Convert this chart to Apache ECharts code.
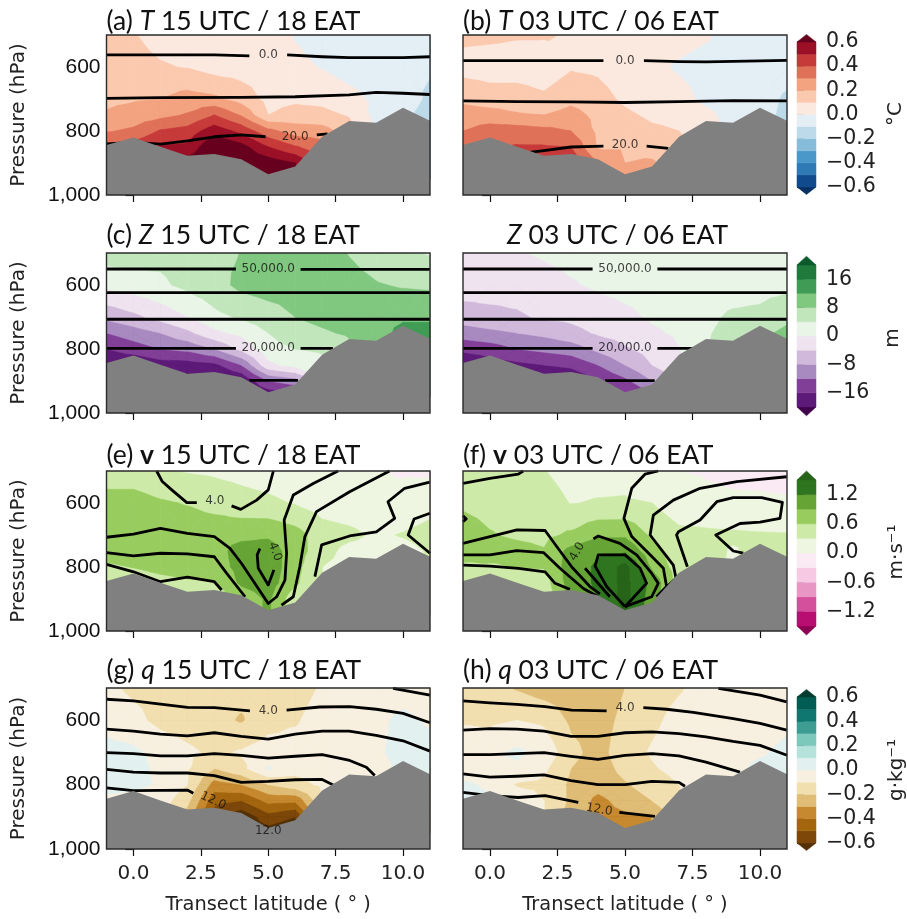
<!DOCTYPE html>
<html><head><meta charset="utf-8">
<style>html,body{margin:0;padding:0;background:#fff}#c{width:907px;height:919px}</style>
<script src="https://cdn.jsdelivr.net/npm/echarts@6/dist/echarts.min.js"></script>
</head><body><div id="c"></div>
<script>
const latitudes=[-1,0,1,2,3,4,5,6,7,8,9,10,11];
const pressures=[500,600,700,750,800,850,900,950];
const terrainP=[844,820,849,877,872,888,935,911,818,769,774,727,768];
const xTicks=[0,2.5,5,7.5,10];
const yTicks=[600,800,1000];

const edgesT=[-.6,-.5,-.4,-.3,-.2,-.1,0,.1,.2,.3,.4,.5,.6];
const edgesZ=[-20,-16,-12,-8,-4,0,4,8,12,16,20];
const edgesV=[-1.5,-1.2,-.9,-.6,-.3,0,.3,.6,.9,1.2,1.5];
const edgesQ=edgesT;
const colorsT=['#053061','#114b8e','#2f79b5','#4a98c9','#86bcd9','#bcdaea','#e3eef5','#fbe9e0','#fbc9ae','#f3a380','#df7159','#c73a3a','#9b1027','#67001f'];
const colorsZ=['#40004b','#5e1a78','#823f98','#a98ac0','#d0b9da','#eee3ef','#e9f5e6','#c2e6bc','#80c780','#409c54','#1f7a3c','#0b5a2b'];
const colorsV=['#8e0152','#b80e72','#d44f9c','#e896c4','#f7c9e2','#faeaf3','#eef6e2','#cdeaa8','#98cc5e','#66a436','#2f7520','#276419'];
const colorsQ=['#543005','#7c4708','#a3660f','#c6892f','#dfbd76','#f2dfb0','#f7f0e0','#e2f1ef','#b5e2db','#7cc9bc','#3e9d93','#0f776f','#015c53','#003c30'];
const ticksT=[-.6,-.4,-.2,0,.2,.4,.6];
const ticksZ=[-16,-8,0,8,16];
const ticksV=[-1.2,-.6,0,.6,1.2];

// each row: one latitude, values at the pressures above
const fieldA=[
[.12,.15,.18,.21,.29,.42,.5,.5],[.105,.13,.19,.24,.32,.45,.5,.5],[.07,.108,.2,.27,.41,.51,.55,.55],[.06,.095,.24,.31,.44,.52,.65,.65],
[.05,.06,.22,.4,.56,.7,.72,.72],[.05,.05,.16,.29,.47,.64,.7,.7],[.04,.04,.07,.1,.33,.5,.66,.75],[-.005,.02,.08,.14,.25,.41,.6,.65],
[-.03,-.005,.07,.13,.24,.35,.35,.35],[-.04,-.04,.03,.09,.15,.15,.15,.15],[-.05,-.05,-.02,-.03,-.03,-.03,-.03,-.03],[-.05,-.07,-.05,-.08,-.08,-.08,-.08,-.08],[-.05,-.09,-.12,-.14,-.15,-.15,-.15,-.15]];
const fieldB=[
[.125,.06,.18,.24,.3,.33,.35,.35],[.12,.05,.15,.24,.35,.38,.38,.38],[.11,.05,.15,.21,.35,.41,.45,.45],[.11,.04,.12,.2,.33,.41,.45,.5],
[.09,.09,.17,.24,.3,.4,.48,.5],[.06,.08,.14,.17,.18,.19,.3,.3],[.05,.04,.08,.12,.16,.19,.2,.3],[.03,.02,.04,.08,.12,.17,.21,.25],
[.03,-.01,.03,.07,.1,.14,.15,.15],[.01,-.03,-.02,.02,.04,.04,.04,.04],[-.03,-.04,-.04,-.03,-.02,-.02,-.02,-.02],[-.04,-.04,-.05,-.06,-.06,-.06,-.06,-.06],[-.05,-.05,-.12,-.13,-.14,-.14,-.14,-.14]];
const fieldC=[
[6,1,-7,-12,-16,-20,-22,-22],[6,2,-5,-10,-14,-20,-22,-22],[5,3.3,-2.5,-8,-12,-18,-22,-22],[6,5,0,-5,-11,-18,-22,-22],
[7,6.5,3,-1,-8,-17,-22,-22],[8.1,9,4.5,1,-3,-12,-20,-22],[9.5,10,6,4,2.5,-1,-12,-20],[10,10,8,6.5,4,1.5,-10,-18],
[10,11,9,7.5,4.5,3,3,3],[7.8,9.5,10,8.5,7,7,7,7],[6,8.3,11,10.5,10,10,10,10],[4.5,7.6,11.5,13,13,13,13,13],[3.7,7.3,11.5,13,14,14,14,14]];
const fieldD=[
[-1,-2,-6,-10,-15,-20,-22,-22],[-1,-2.5,-5,-9,-14,-18,-22,-22],[-.3,-2.5,-4.5,-8,-12,-17,-22,-22],[.5,-1.5,-3.5,-7,-11,-16,-21,-22],
[1,-.3,-3,-5.5,-10,-15,-20,-22],[1,.5,-1.7,-3.5,-7,-12,-16,-21],[1.2,1,-.7,-2.5,-4.5,-8,-13,-17],[1.5,1.2,.4,-.5,-2.5,-4,-8,-14],
[1.8,1.7,1,.5,-.1,-1.5,-3,-4],[2,2.2,3.2,3.7,3.8,4,4,4],[2,2.3,4.6,5,5.5,6,6,6],[2,2.5,5,7,7,7,7,7],[2,3,7,9,10,10,10,10]];
const fieldE=[
[.4,.75,.8,.75,.55,.35,.35,.35],[.4,.75,.8,.75,.61,.4,.35,.35],[.31,.64,.8,.75,.7,.48,.35,.35],[.28,.58,.8,.78,.75,.55,.35,.35],
[.25,.5,.78,.75,.75,.58,.35,.35],[.2,.42,.8,1.05,1,.95,.7,.7],[.15,.36,.85,1.05,1.1,1.05,.95,.95],[.1,.28,.72,.75,.7,.65,.4,.4],
[.05,.15,.45,.42,.3,.3,.3,.3],[.02,.1,.38,.2,.2,.2,.2,.2],[.02,.05,.25,.18,.2,.2,.2,.2],[-.03,.1,.32,.2,.2,.2,.2,.2],[-.05,.2,.4,.33,.3,.3,.3,.3]];
const fieldF=[
[.38,.55,.75,.85,.5,.33,.3,.3],[.38,.5,.62,.75,.55,.35,.33,.33],[.33,.48,.55,.7,.62,.4,.33,.33],[.31,.42,.53,.62,.62,.45,.33,.33],
[.2,.29,.65,1,1.05,1.05,1,1],[.2,.32,.85,1.15,1.25,1.25,1.2,1.2],[.2,.33,.85,1.15,1.6,1.6,1.6,1.5],[.1,.3,.55,.7,.85,1.1,1.05,1.05],
[0,.12,.38,.42,.45,.5,.5,.5],[-.02,.05,.37,.4,.4,.4,.4,.4],[-.04,.03,.35,.27,.25,.25,.25,.25],[-.05,.03,.33,.4,.4,.4,.4,.4],[-.06,.02,.32,.4,.4,.4,.4,.4]];
const fieldG=[
[-.08,-.03,.03,.03,.03,-.02,-.02,-.02],[-.12,-.07,.02,.03,.02,-.03,-.03,-.03],[-.14,-.13,-.03,-.02,-.01,-.05,-.05,-.05],[-.15,-.15,-.08,-.09,-.1,-.17,-.25,-.25],
[-.15,-.17,-.12,-.2,-.34,-.47,-.55,-.6],[-.17,-.21,-.09,-.13,-.3,-.5,-.68,-.7],[-.16,-.14,-.05,.01,-.2,-.37,-.54,-.65],[-.14,-.11,-.06,-.07,-.14,-.38,-.6,-.7],
[-.09,-.06,-.05,-.06,-.08,-.12,-.12,-.12],[-.05,-.04,-.04,-.08,-.08,-.08,-.08,-.08],[-.05,-.02,-.01,-.03,-.03,-.03,-.03,-.03],[-.04,.02,.02,.02,.02,.02,.02,.02],[-.05,-.01,.03,.02,.02,.02,.02,.02]];
const fieldH=[
[-.13,-.11,-.05,-.04,.01,.02,.02,.02],[-.15,-.12,-.03,-.02,-.01,.01,.01,.01],[-.21,-.1,.02,-.02,-.11,-.04,-.04,-.04],[-.25,-.12,-.03,-.08,-.12,-.1,-.1,-.1],
[-.25,-.22,-.17,-.2,-.22,-.22,-.25,-.3],[-.28,-.25,-.24,-.25,-.26,-.33,-.34,-.35],[-.2,-.17,-.14,-.17,-.21,-.26,-.32,-.4],[-.14,-.12,-.09,-.11,-.15,-.2,-.3,-.3],
[-.11,-.07,-.05,-.07,-.1,-.12,-.12,-.12],[-.06,-.05,-.04,-.04,-.04,-.04,-.04,-.04],[-.04,-.04,-.03,-.02,-.02,-.02,-.02,-.02],[-.04,-.04,-.01,.02,.02,.02,.02,.02],[-.04,-.02,.02,.02,.02,.02,.02,.02]];

// contour lines as [latitude, pressure] vertices
const linesA=[
[[-1,562],[1,562],[3,562],[4.3,565]],[[5.7,562],[7,568],[8,571],[9,571],[10,571],[11,568]],
[[-1,698],[1,696],[4,695],[6,693],[8,687],[9,679],[10,682],[11,686]],
[[-1,840],[0,836],[1,841],[2,831],[3,818],[4,812],[4.9,818]],[[6.8,812],[7.2,809]]];
const linesB=[
[[-1,580],[1,580],[3,580],[4.2,580]],[[5.7,580],[7,583],[8,584],[10,581],[11,579]],
[[-1,706],[1,708],[3,709],[5,711],[7,708],[9,705],[11,706]],
[[1,872],[1.6,865],[2,861],[3,850],[4.2,847]],[[5.8,847],[6.6,854]]];
const linesC=[
[[-1,550],[3.8,550]],[[6.2,551],[11,551]],[[-1,624],[11,624]],[[-1,707],[11,707]],
[[-1,798],[3.8,798]],[[6.2,798],[7.4,798]],[[4.3,898],[6.1,898]]];
const linesD=[
[[-1,550],[3.8,550]],[[6.2,550],[11,550]],[[-1,624],[11,624]],[[-1,707],[11,707]],
[[-1,798],[3.8,798]],[[6.2,798],[7.5,798]],[[4.26,899],[6.1,899]]];
const linesE=[
[[.86,500],[1.07,533],[1.42,559],[1.98,599],[2.35,599]],[[3.64,609],[3.98,620],[4.57,591],[5,559],[5.19,500]],
[[-1,707],[0,697],[1,679],[2,695],[3,705],[3.58,742],[4.01,789],[4.5,851],[5,914],[5.31,893],[5.62,841],[5.68,757],[5.59,653],[5.93,575],[6.67,539],[7.59,500]],
[[-1,755],[0,765],[1,757],[2,759],[3,768],[3.46,820],[4.14,893]],
[[5.49,919],[5.93,893],[6.17,799],[6.36,705],[6.79,627],[8.02,565],[9.5,500]],
[[-1,792],[0,815],[1,846],[2,832],[3,846],[3.27,872]],
[[6.73,830],[6.98,731],[8.02,703],[9.01,690],[9.69,648],[9.44,596],[10.06,554],[10.99,535]],
[[4.69,742],[4.59,762],[4.63,804],[5,856],[5.21,809]],
[[11,632],[10.41,650],[10.19,700],[11,757]]];
const linesF=[
[[-1,539],[0,523],[1.05,510],[1.23,500]],[[-1,640],[-.88,650],[-1,658]],
[[-1,726],[0,705],[1,684],[2.04,686],[2.47,736],[3.02,799],[3.7,861],[4.07,884]],
[[-1,762],[0,762],[.99,749],[1.98,755],[2.59,804],[3.46,867],[4.01,893]],
[[-1,794],[0,797],[1.05,804],[2.04,815],[2.41,851],[2.96,870]],
[[5,924],[5.8,851],[5.56,804],[5,762],[4.01,762],[3.89,797],[4.32,861],[5,924]],
[[3.83,712],[4.01,703],[4.81,726],[5.43,762],[5.99,820],[6.23,851],[5.99,893],[5,924]],
[[3.52,804],[4.44,893]],
[[6.23,500],[5.74,510],[5.25,554],[4.96,648],[5.25,705],[5.93,762],[6.42,804],[6.54,861],[6.17,893]],
[[10.99,518],[9.14,533],[7.78,554],[6.79,591],[6.05,638],[5.93,700],[6.79,794],[6.89,835],[6.48,867]],
[[7.31,799],[6.91,700],[6.98,690],[7.78,653],[8.4,596],[9.01,583],[10.06,583],[10.83,598],[10.74,648],[10,660],[9.26,664],[8.36,700],[9.01,750],[9.38,757]]];
const linesG=[
[[9.63,501],[11,522]],
[[-1,535],[0,540],[1,550],[2,560],[3,561],[4.32,571]],[[5.68,569],[6.91,559],[8.02,558],[9.01,566],[10,579],[11,608]],
[[-1,628],[0,634],[1,643],[2,649],[3,639],[4,650],[5,659],[6,643],[7,634],[8,634],[9,647],[10,664],[11,696]],
[[-1,701],[0,704],[1,711],[2,711],[3,704],[4,709],[5,718],[6,712],[7,707],[8.02,725],[8.64,746],[8.95,772]],
[[-1,753],[0,761],[1,764],[2,764],[3,772],[4,793],[5,790],[6,785],[7,784],[7.41,801]],
[[-1,810],[0,819],[2,817],[2.22,827]]];
const linesH=[
[[8.46,501],[10,522],[10.99,543]],
[[-1,540],[0,546],[.99,551],[2.04,558],[3.02,569],[4.32,571]],[[5.68,561],[6.54,566],[7.53,576],[9.01,595],[10,610],[10.99,631]],
[[-1,631],[0,626],[1,628],[2,634],[3,650],[4,650],[5,639],[6,636],[7,642],[8,652],[9,666],[10,678],[11,709]],
[[-1,707],[0,707],[1,704],[2,701],[3,712],[4,722],[5,709],[6,704],[7,711],[8,730],[9.26,761]],
[[-1,767],[0,777],[1,774],[2,770],[3,788],[4,800],[5,800],[6,790],[7,793],[7.22,805]],
[[-1,824],[0,834],[1.05,840],[2.04,834],[3.27,855]],
[[4.79,886],[6.11,899]]];

// inline contour labels: latitude, pressure, text, rotation
const labelsA=[[5,562,'0.0',0],[6,818,'20.0',0]];
const labelsB=[[5,580,'0.0',0],[5,844,'20.0',0]];
const labelsC=[[5,550,'50,000.0',0],[5,798,'20,000.0',0]];
const labelsD=[[5,550,'50,000.0',0],[5,798,'20,000.0',0]];
const labelsE=[[3.02,593,'4.0',0],[5.25,752,'4.0',-70]];
const labelsF=[[3.23,752,'4.0',60]];
const labelsG=[[5,572,'4.0',0],[2.96,850,'12.0',-25],[5,945,'12.0',0]];
const labelsH=[[5,561,'4.0',0],[4.04,878,'12.0',-10]];

const panels=[
{field:fieldA,lines:linesA,labels:labelsA,edges:edgesT,colors:colorsT,pre:'(a) ',sym:'T',st:'i',rest:' 15 UTC / 18 EAT'},
{field:fieldB,lines:linesB,labels:labelsB,edges:edgesT,colors:colorsT,pre:'(b) ',sym:'T',st:'i',rest:' 03 UTC / 06 EAT'},
{field:fieldC,lines:linesC,labels:labelsC,edges:edgesZ,colors:colorsZ,pre:'(c) ',sym:'Z',st:'i',rest:' 15 UTC / 18 EAT'},
{field:fieldD,lines:linesD,labels:labelsD,edges:edgesZ,colors:colorsZ,pre:'',sym:'Z',st:'i',rest:' 03 UTC / 06 EAT'},
{field:fieldE,lines:linesE,labels:labelsE,edges:edgesV,colors:colorsV,pre:'(e) ',sym:'v',st:'b',rest:' 15 UTC / 18 EAT'},
{field:fieldF,lines:linesF,labels:labelsF,edges:edgesV,colors:colorsV,pre:'(f) ',sym:'v',st:'b',rest:' 03 UTC / 06 EAT'},
{field:fieldG,lines:linesG,labels:labelsG,edges:edgesQ,colors:colorsQ,pre:'(g) ',sym:'q',st:'i',rest:' 15 UTC / 18 EAT'},
{field:fieldH,lines:linesH,labels:labelsH,edges:edgesQ,colors:colorsQ,pre:'(h) ',sym:'q',st:'i',rest:' 03 UTC / 06 EAT'}];

const rowTop=[35,253,471,688], rowH=[160,160,160,161], colLeft=[106.5,463], colW=[323.5,324];
const titleTop=[10,224,444,659];
const bars=[
{edges:edgesT,colors:colorsT,ticks:ticksT,top:42,h:145,dec:1,unit:'°C',ux:896,uy:114},
{edges:edgesZ,colors:colorsZ,ticks:ticksZ,top:265,h:142,dec:0,unit:'m',ux:893,uy:338},
{edges:edgesV,colors:colorsV,ticks:ticksV,top:480,h:146,dec:1,unit:'m·s⁻¹',ux:897,uy:552},
{edges:edgesQ,colors:colorsQ,ticks:ticksT,top:697,h:146,dec:1,unit:'g·kg⁻¹',ux:897,uy:770}];

const TICKFONT='DejaVu Sans';
function clipTri(tri,level){ // keep part with v>=level
  const out=[];
  for(let i=0;i<tri.length;i++){
    const a=tri[i],b=tri[(i+1)%tri.length];
    const ia=a[2]>=level,ib=b[2]>=level;
    if(ia)out.push(a);
    if(ia!==ib){const t=(level-a[2])/(b[2]-a[2]);out.push([a[0]+t*(b[0]-a[0]),a[1]+t*(b[1]-a[1]),level]);}
  }
  return out;
}
function bandPolys(field,edges,colors){
  const polys=[];
  const L=latitudes,P=pressures;
  polys.push({pts:[[L[0],P[0]],[L[L.length-1],P[0]],[L[L.length-1],P[P.length-1]],[L[0],P[P.length-1]]],color:colors[0]});
  edges.forEach((lev,k)=>{
    const color=colors[k+1];
    for(let i=0;i<L.length-1;i++)for(let j=0;j<P.length-1;j++){
      const a=[L[i],P[j],field[i][j]],b=[L[i+1],P[j],field[i+1][j]],c=[L[i+1],P[j+1],field[i+1][j+1]],d=[L[i],P[j+1],field[i][j+1]];
      if(a[2]>=lev&&b[2]>=lev&&c[2]>=lev&&d[2]>=lev){polys.push({pts:[a,b,c,d],color});continue;}
      if(a[2]<lev&&b[2]<lev&&c[2]<lev&&d[2]<lev)continue;
      const m=[(a[0]+c[0])/2,(a[1]+c[1])/2,(a[2]+b[2]+c[2]+d[2])/4];
      [[a,b,m],[b,c,m],[c,d,m],[d,a,m]].forEach(t=>{const q=clipTri(t,lev);if(q.length>2)polys.push({pts:q,color});});
    }
  });
  return polys;
}
const fmtTick=(v,dec)=>{const s=Math.abs(v).toFixed(dec);return (v<0?'\u2212':'')+s;};
const grids=[],xAxes=[],yAxes=[],series=[],titles=[];
panels.forEach((p,idx)=>{
  const r=Math.floor(idx/2),c=idx%2,ai=grids.length;
  grids.push({left:colLeft[c],top:rowTop[r],width:colW[c],height:rowH[r],show:false});
  xAxes.push({gridIndex:ai,type:'value',min:-1,max:11,splitLine:{show:false},
    axisLine:{show:false},
    axisTick:{show:true,length:7,customValues:xTicks,lineStyle:{color:'#111',width:1.2}},
    axisLabel:{show:r===3,customValues:xTicks,formatter:v=>v.toFixed(1),fontFamily:TICKFONT,fontSize:20,color:'#222',margin:15},
    name:r===3?'Transect latitude ( ° )':'',nameLocation:'middle',nameGap:46,nameTextStyle:{fontFamily:TICKFONT,fontSize:19.4,color:'#222'}});
  yAxes.push({gridIndex:ai,type:'value',inverse:true,min:500,max:1000,splitLine:{show:false},
    axisLine:{show:false},
    axisTick:{show:true,length:8,customValues:yTicks,lineStyle:{color:'#111',width:1.2}},
    axisLabel:{show:c===0,customValues:yTicks,formatter:v=>v>=1000?'1,000':String(v),fontFamily:'Liberation Sans',fontSize:21,color:'#111',margin:6},
    name:c===0?'Pressure (hPa)':'',nameLocation:'middle',nameRotate:90,nameGap:78,nameTextStyle:{fontFamily:TICKFONT,fontSize:20,color:'#222'}});
  const polys=bandPolys(p.field,p.edges,p.colors);
  series.push({type:'custom',name:'bands'+idx,xAxisIndex:ai,yAxisIndex:ai,z:2,silent:true,animation:false,progressive:0,clip:true,
    data:[[0]],encode:{x:[],y:[]},
    renderItem:(params,api)=>({type:'group',children:polys.map(q=>({type:'polygon',shape:{points:q.pts.map(t=>api.coord([t[0],t[1]]))},style:{fill:q.color,stroke:q.color,lineWidth:.5}}))})});
  p.lines.forEach((ln,k)=>series.push({type:'line',name:'contour'+idx+'-'+k,xAxisIndex:ai,yAxisIndex:ai,z:3,silent:true,animation:false,symbol:'none',clip:true,
    data:ln,lineStyle:{color:'#000',width:2.8,join:'round'}}));
  series.push({type:'line',name:'terrain'+idx,xAxisIndex:ai,yAxisIndex:ai,z:4,silent:true,animation:false,symbol:'none',
    data:latitudes.map((l,i)=>[l,terrainP[i]]),lineStyle:{width:0},areaStyle:{color:'#808080',opacity:1,origin:'end'}});
  series.push({type:'custom',name:'frame'+idx,xAxisIndex:ai,yAxisIndex:ai,z:5,silent:true,animation:false,clip:false,data:[[0]],encode:{x:[],y:[]},
    renderItem:(params,api)=>{const a=api.coord([-1,500]),b=api.coord([11,1000]);return {type:'rect',shape:{x:a[0],y:a[1],width:b[0]-a[0],height:b[1]-a[1]},style:{fill:'none',stroke:'#2a2a2a',lineWidth:1.4}};}});
  series.push({type:'scatter',name:'labels'+idx,xAxisIndex:ai,yAxisIndex:ai,z:6,silent:true,animation:false,symbolSize:0,clip:false,
    data:p.labels.map(l=>({value:[l[0],l[1]],label:{show:true,position:'inside',formatter:l[2],rotate:l[3],fontFamily:TICKFONT,fontSize:12,color:'#111'}}))});
  const tf={fontFamily:'Lato',fontSize:26.5,color:'#111',fontWeight:'normal'};
  titles.push({text:(p.pre?'{n|'+p.pre+'}':'')+'{'+p.st+'|'+p.sym+'}{n|'+p.rest+'}',left:p.pre?colLeft[c]:507,top:titleTop[r]-2,z:10,padding:0,
    textStyle:{fontWeight:'normal',rich:{n:tf,i:Object.assign({},tf,{fontStyle:'italic'}),b:Object.assign({},tf,{fontWeight:'bold'})}}});
});
const graphics=[];
bars.forEach(b=>{
  const ai=grids.length,e=b.edges,n=e.length,step=e[1]-e[0],tip=step*0.62;
  grids.push({left:797,top:b.top,width:19,height:b.h,show:false});
  xAxes.push({gridIndex:ai,type:'value',min:0,max:1,show:false});
  yAxes.push({gridIndex:ai,type:'value',position:'right',min:e[0],max:e[n-1],splitLine:{show:false},axisLine:{show:false},
    axisTick:{show:true,length:7,customValues:b.ticks,lineStyle:{color:'#111',width:1.2}},
    axisLabel:{customValues:b.ticks,formatter:v=>fmtTick(v,b.dec),fontFamily:TICKFONT,fontSize:20.5,color:'#222',margin:10}});
  const shapes=[];
  shapes.push({pts:[[0,e[0]],[1,e[0]],[.5,e[0]-tip]],color:b.colors[0]});
  for(let i=0;i<n-1;i++)shapes.push({pts:[[0,e[i]],[1,e[i]],[1,e[i+1]],[0,e[i+1]]],color:b.colors[i+1]});
  shapes.push({pts:[[0,e[n-1]],[1,e[n-1]],[.5,e[n-1]+tip]],color:b.colors[n]});
  series.push({type:'custom',name:'colorbar'+ai,xAxisIndex:ai,yAxisIndex:ai,z:2,silent:true,animation:false,clip:false,data:shapes.map((s,i)=>[i]),encode:{x:[],y:[]},
    renderItem:(params,api)=>{const s=shapes[params.dataIndex];return {type:'polygon',shape:{points:s.pts.map(t=>api.coord(t))},style:{fill:s.color,stroke:s.color,lineWidth:.5}};}});
  graphics.push({type:'text',x:b.ux,y:b.uy,rotation:Math.PI/2,style:{text:b.unit,fontFamily:TICKFONT,fontSize:20,fill:'#222',align:'center',verticalAlign:'middle'},z:10});
});
const chart=echarts.init(document.getElementById('c'),null,{renderer:'canvas',width:907,height:919});
chart.setOption({animation:false,backgroundColor:'#fff',title:titles,grid:grids,xAxis:xAxes,yAxis:yAxes,series:series,graphic:graphics,tooltip:{show:false},legend:{show:false}});
</script></body></html>
